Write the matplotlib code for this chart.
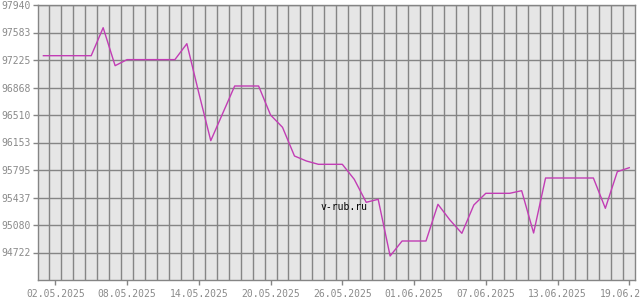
import matplotlib
matplotlib.use("Agg")
import matplotlib.pyplot as plt
import numpy as np

# Data: daily values, 01.05.2025 .. 19.06.2025
values = [97281, 97281, 97281, 97281, 97281, 97645, 97151,
          97230, 97230, 97230, 97230, 97230, 97437, 96796,
          96176, 96532, 96887, 96887, 96887, 96510, 96350,
          95977, 95912, 95869, 95869, 95869, 95674, 95375,
          95414, 94677, 94872, 94872, 94872, 95349, 95145,
          94972, 95340, 95492, 95492, 95492, 95526, 94976,
          95691, 95691, 95691, 95691, 95691, 95297, 95773,
          95825]
x_tick_days = [1, 7, 13, 19, 25, 31, 37, 43, 49]
x_tick_labels = ["02.05.2025", "08.05.2025", "14.05.2025", "20.05.2025",
                 "26.05.2025", "01.06.2025", "07.06.2025", "13.06.2025",
                 "19.06.2025"]
y_ticks = [94722.5, 95080, 95437.5, 95795, 96152.5, 96510,
           96867.5, 97225, 97582.5, 97940]
y_tick_labels = ["94722", "95080", "95437", "95795", "96153", "96510",
                 "96868", "97225", "97583", "97940"]

days = np.arange(len(values))
grid_col = "#858585"

fig = plt.figure(figsize=(6.4, 3.0), dpi=100)
ax = fig.add_axes([38 / 640, 20 / 300, 597 / 640, 275 / 300])
ax.set_facecolor("#e6e6e6")

ax.plot(days, values, color="#c23db5", linewidth=1.0, zorder=3)

ax.set_xlim(-0.45, 49.48)
ax.set_ylim(94365, 97940)

# vertical grid at half days
for g in np.arange(0.5, 49, 1.0):
    ax.axvline(g, color=grid_col, linewidth=1.0, zorder=1)
for t in y_ticks:
    ax.axhline(t, color=grid_col, linewidth=1.0, zorder=1)

ax.set_xticks(x_tick_days)
ax.set_xticklabels(x_tick_labels)
ax.set_yticks(y_ticks)
ax.set_yticklabels(y_tick_labels)
ax.tick_params(axis="both", colors=grid_col, labelcolor="#8a8a8a",
               labelsize=7, length=3.5, width=1, pad=2)
ax.tick_params(axis="x", pad=3)
for lab in ax.get_xticklabels() + ax.get_yticklabels():
    lab.set_family("DejaVu Sans Mono")

for s in ax.spines.values():
    s.set_color(grid_col)
    s.set_linewidth(1.0)

ax.text(0.5126, 0.264, "v-rub.ru", transform=ax.transAxes, ha="center",
        va="center", fontsize=7, family="DejaVu Sans Mono", color="black",
        zorder=4)

fig.savefig("out.png", dpi=100, facecolor="white")
